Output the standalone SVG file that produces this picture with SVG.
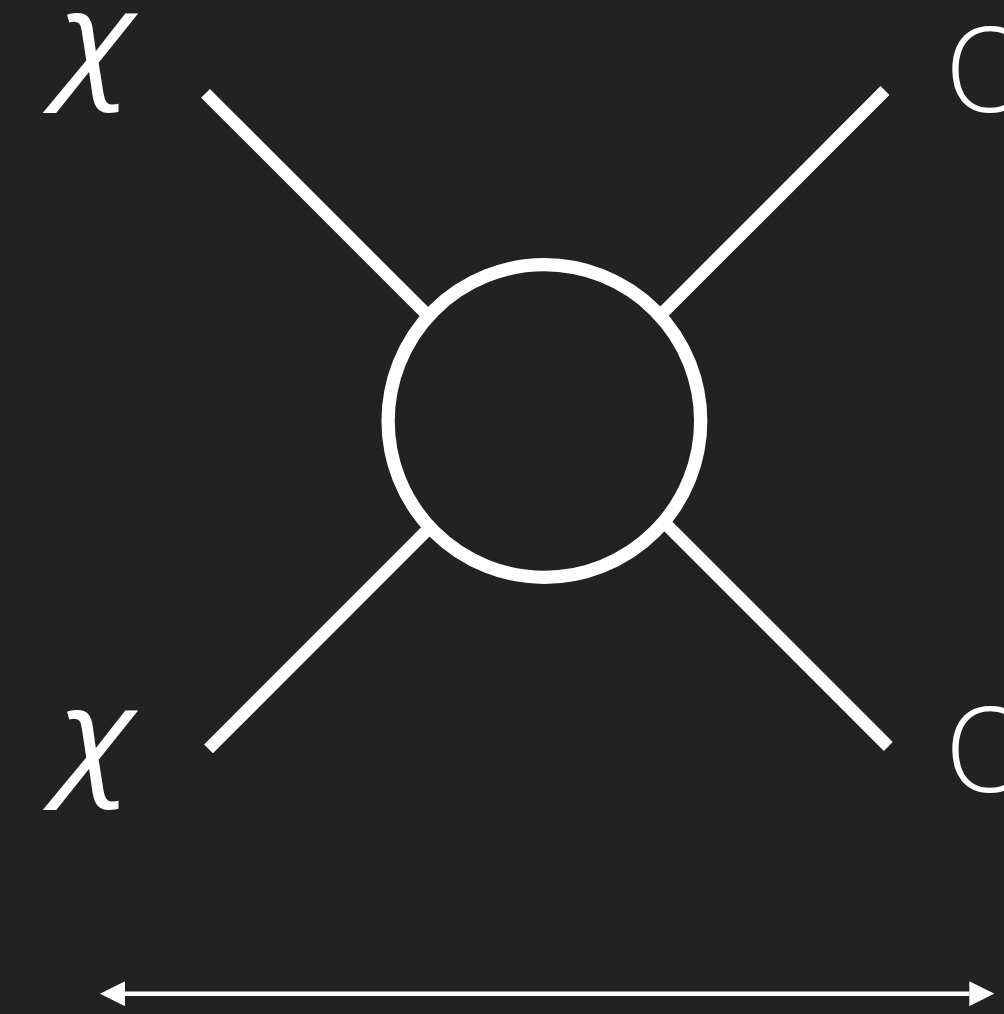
<svg xmlns="http://www.w3.org/2000/svg" width="1004" height="1014" viewBox="0 0 1004 1014">
<defs>
<style>
.leg{stroke:#fff;stroke-width:12.5;stroke-linecap:butt;fill:none}
.chi{font-family:"Open Sans",sans-serif;font-style:italic;font-size:128px;fill:#fff}
.out{font-family:"Open Sans",sans-serif;font-weight:300;font-size:118px;fill:#fff}
.scale{stroke:#fff;stroke-width:4.6;fill:none}
</style>
<marker id="ah" viewBox="0 0 25 25" refX="0" refY="12.5" markerWidth="25" markerHeight="25" markerUnits="userSpaceOnUse" orient="auto-start-reverse">
<path d="M0,0 L25,12.5 L0,25 Z" fill="#fff"/>
</marker>
</defs>
<rect width="1004" height="1014" fill="#222"/>
<g id="connectors">
<line class="leg" x1="205.5" y1="93.3" x2="544" y2="431.6"/>
<line class="leg" x1="885" y1="90.5" x2="544" y2="431.6"/>
<line class="leg" x1="208.5" y1="748.8" x2="549.5" y2="407.7"/>
<line class="leg" x1="888.3" y1="746.5" x2="549.5" y2="407.7"/>
<line class="scale" x1="125" y1="993.7" x2="969.3" y2="993.7" marker-start="url(#ah)" marker-end="url(#ah)"/>
</g>
<g id="vertex">
<circle cx="544.4" cy="421" r="156.3" fill="#222" stroke="#fff" stroke-width="13.3"/>
</g>
<g id="chi-top"><text class="chi" transform="translate(59,82) scale(1.15,1)">χ</text></g>
<g id="chi-bottom"><text class="chi" transform="translate(59,779) scale(1.15,1)">χ</text></g>
<g id="out-top"><text class="out" x="945" y="112">O</text></g>
<g id="out-bottom"><text class="out" x="945" y="792">O</text></g>
</svg>
